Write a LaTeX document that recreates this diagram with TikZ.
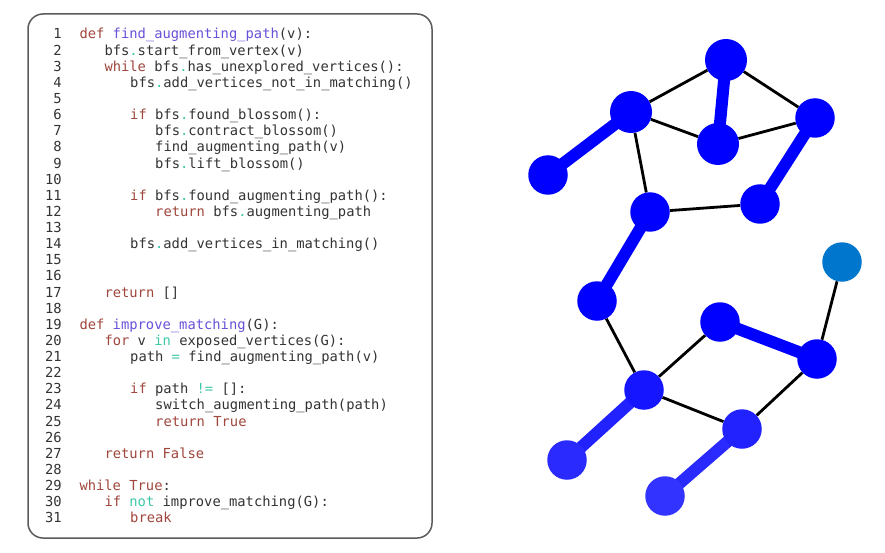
\documentclass[tikz,border=0pt]{standalone}
\usepackage{fontspec}
\setmonofont{DejaVu Sans Mono}
\usetikzlibrary{backgrounds}
\definecolor{kwc}{HTML}{A0463C}
\definecolor{fnc}{HTML}{6A50D8}
\definecolor{opc}{HTML}{3CC8A8}
\definecolor{txc}{HTML}{333333}
\definecolor{framec}{HTML}{5A5A5A}
\definecolor{vblue}{HTML}{0000FF}
\definecolor{vblueA}{HTML}{1515FF}
\definecolor{vblueB}{HTML}{2222FF}
\definecolor{vblueC}{HTML}{2A2AFF}
\definecolor{vblueD}{HTML}{3333FF}
\definecolor{vcyan}{HTML}{0077CC}
\newcommand\kw[1]{\textcolor{kwc}{#1}}
\newcommand\fn[1]{\textcolor{fnc}{#1}}
\newcommand\op[1]{\textcolor{opc}{#1}}
\newcommand\dt{\textcolor{opc}{.}}
\begin{document}
\begin{tikzpicture}[x=1pt,y=1pt,
  codeline/.style={anchor=base west,inner sep=0pt,font=\ttfamily\fontsize{13.8}{16}\selectfont,text=txc},
  lineno/.style={anchor=base east,inner sep=0pt,font=\ttfamily\fontsize{13.8}{16}\selectfont,text=txc},
  vtx/.style={circle,inner sep=0pt,minimum size=39.5pt,fill=vblue},
  bigvtx/.style={vtx,minimum size=42pt},
  thin/.style={line width=2.8pt,black},
  thick/.style={line width=12pt,vblue}]
\useasboundingbox (0,0) rectangle (885,-553);
\node[draw=framec,line width=1.5pt,rounded corners=15pt,minimum width=404pt,minimum height=524pt,inner sep=0pt] (frame) at (230,-276) {};
% line numbers
\foreach \i in {1,...,31}{
  \node[lineno] (n\i) at (62,{-39-(\i-1)*16.13}) {\i};
}
\def\ya#1{{-39-(#1-1)*16.13}}
\node[codeline] (c1) at (79.3,\ya{1}) {\kw{def} \fn{find\_augmenting\_path}(v):};
\node[codeline] (c2) at (104.3,\ya{2}) {bfs\dt start\_from\_vertex(v)};
\node[codeline] (c3) at (104.3,\ya{3}) {\kw{while} bfs\dt has\_unexplored\_vertices():};
\node[codeline] (c4) at (130,\ya{4}) {bfs\dt add\_vertices\_not\_in\_matching()};
\node[codeline] (c6) at (130,\ya{6}) {\kw{if} bfs\dt found\_blossom():};
\node[codeline] (c7) at (155,\ya{7}) {bfs\dt contract\_blossom()};
\node[codeline] (c8) at (155,\ya{8}) {find\_augmenting\_path(v)};
\node[codeline] (c9) at (155,\ya{9}) {bfs\dt lift\_blossom()};
\node[codeline] (c11) at (130,\ya{11}) {\kw{if} bfs\dt found\_augmenting\_path():};
\node[codeline] (c12) at (155,\ya{12}) {\kw{return} bfs\dt augmenting\_path};
\node[codeline] (c14) at (130,\ya{14}) {bfs\dt add\_vertices\_in\_matching()};
\node[codeline] (c17) at (104.3,\ya{17}) {\kw{return} []};
\node[codeline] (c19) at (79.3,\ya{19}) {\kw{def} \fn{improve\_matching}(G):};
\node[codeline] (c20) at (104.3,\ya{20}) {\kw{for} v \op{in} exposed\_vertices(G):};
\node[codeline] (c21) at (130,\ya{21}) {path \op{=} find\_augmenting\_path(v)};
\node[codeline] (c23) at (130,\ya{23}) {\kw{if} path \op{!=} []:};
\node[codeline] (c24) at (155,\ya{24}) {switch\_augmenting\_path(path)};
\node[codeline] (c25) at (155,\ya{25}) {\kw{return} \kw{True}};
\node[codeline] (c27) at (104.3,\ya{27}) {\kw{return} \kw{False}};
\node[codeline] (c29) at (79.3,\ya{29}) {\kw{while} \kw{True}:};
\node[codeline] (c30) at (104.3,\ya{30}) {\kw{if} \op{not} improve\_matching(G):};
\node[codeline] (c31) at (130,\ya{31}) {\kw{break}};
% graph vertices
\node[bigvtx] (A) at (726,-60) {};
\node[bigvtx] (B) at (631,-112) {};
\node[bigvtx] (C) at (718,-144) {};
\node[vtx] (D) at (815,-118) {};
\node[vtx] (E) at (548,-175) {};
\node[vtx] (F) at (650,-212) {};
\node[vtx] (G) at (760,-204) {};
\node[vtx,fill=vcyan] (H) at (842,-262) {};
\node[vtx] (I) at (597,-301) {};
\node[vtx] (J) at (720,-322) {};
\node[vtx] (K) at (817,-359) {};
\node[vtx,fill=vblueA] (L) at (644,-390) {};
\node[vtx,fill=vblueB] (M) at (742,-429) {};
\node[vtx,fill=vblueC] (N) at (567,-460) {};
\node[vtx,fill=vblueD] (O) at (665,-496) {};
\begin{scope}[on background layer]
  \draw[thin] (A) -- (B);
  \draw[thin] (A) -- (D);
  \draw[thin] (B) -- (C);
  \draw[thin] (C) -- (D);
  \draw[thin] (B) -- (F);
  \draw[thin] (F) -- (G);
  \draw[thin] (H) -- (K);
  \draw[thin] (I) -- (L);
  \draw[thin] (J) -- (L);
  \draw[thin] (L) -- (M);
  \draw[thin] (M) -- (K);
  \draw[thick] (B.center) -- (E.center);
  \draw[thick] (A.center) -- (C.center);
  \draw[thick] (D.center) -- (G.center);
  \draw[thick] (F.center) -- (I.center);
  \draw[thick] (J.center) -- (K.center);
  \draw[thick,vblueB] (L.center) -- (N.center);
  \draw[thick,vblueC] (M.center) -- (O.center);
\end{scope}
\end{tikzpicture}
\end{document}
